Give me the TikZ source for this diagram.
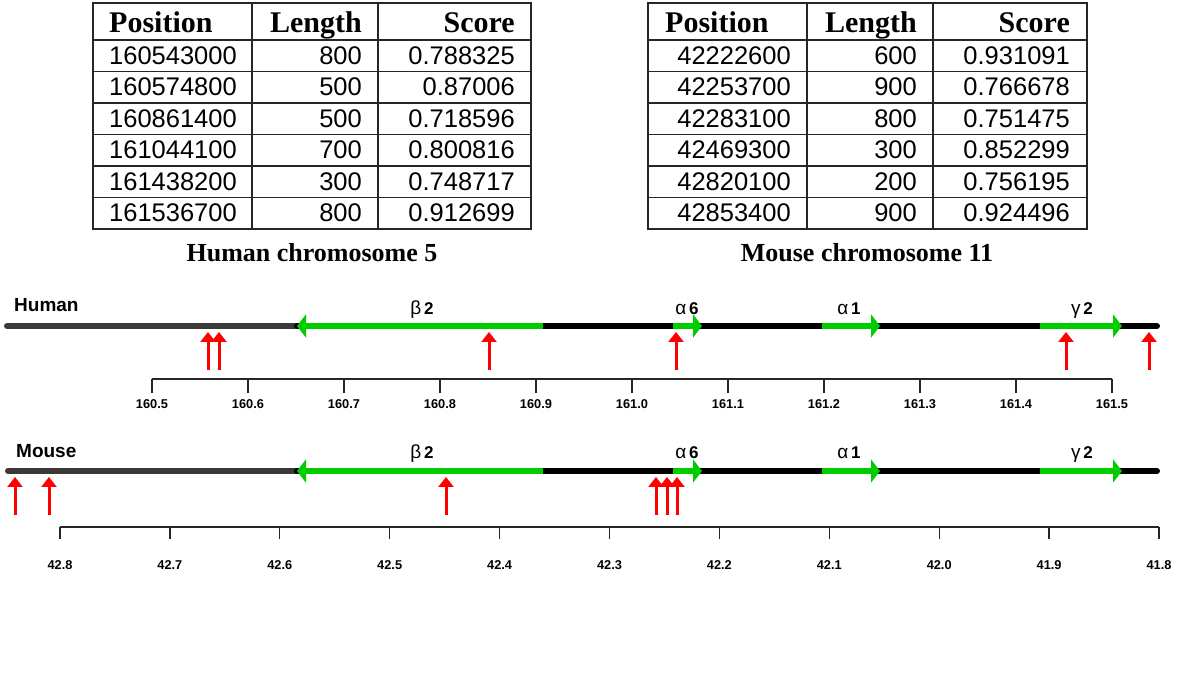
\documentclass[tikz,border=0pt]{standalone}
\usepackage{fontspec}
\setmainfont{Liberation Sans}
\newfontfamily\tnr{Liberation Serif}
\usetikzlibrary{arrows.meta}
\definecolor{genegreen}{RGB}{0,204,0}
\definecolor{chrgray}{RGB}{58,58,58}
\newcommand{\gk}[1]{{\fontsize{19}{22}\selectfont\mdseries #1}}
\begin{document}
\begin{tikzpicture}[x=1pt,y=-1pt,
  cell/.style={inner sep=0pt,font=\fontsize{25.5}{30}\selectfont},
  head/.style={inner sep=0pt,font=\fontsize{30}{34}\selectfont\tnr\bfseries},
  caption/.style={inner sep=0pt,font=\fontsize{26}{30}\selectfont\tnr\bfseries},
  grid/.style={line width=1.1pt,draw=black!85},
  chrom/.style={line width=6pt,line cap=round},
  gene/.style={draw=genegreen,line width=6pt,-{Triangle[length=9pt,width=23pt]}},
  site/.style={draw=red,line width=3pt,-{Triangle[length=10pt,width=15pt]}},
  axisline/.style={line width=1.3pt,draw=black!85},
  ticklab/.style={inner sep=0pt,font=\fontsize{12.8}{14}\selectfont\bfseries},
  species/.style={inner sep=0pt,anchor=base west,font=\fontsize{19}{22}\selectfont\bfseries},
  genelab/.style={inner sep=0pt,anchor=base,font=\fontsize{17}{20}\selectfont\bfseries}
]
\useasboundingbox (0,0) rectangle (1200,684);

% ---------------- Table 1 (human) ----------------
\draw[grid] (93,3) rectangle (531,229);
\draw[grid] (252,3) -- (252,229);
\draw[grid] (378,3) -- (378,229);
\foreach \r in {1,...,6} { \draw[grid] (93,{40+31.5*(\r-1)}) -- (531,{40+31.5*(\r-1)}); }
\node[head,anchor=base west] (h1pos) at (109,33) {Position};
\node[head,anchor=base east] (h1len) at (362,33) {Length};
\node[head,anchor=base east] (h1sc) at (515,33) {Score};
\foreach \p/\l/\s [count=\i] in {160543000/800/0.788325,160574800/500/0.87006,160861400/500/0.718596,161044100/700/0.800816,161438200/300/0.748717,161536700/800/0.912699} {
  \node[cell,anchor=base east] (h1p\i) at (237,{33+31.5*\i}) {\p};
  \node[cell,anchor=base east] (h1l\i) at (362,{33+31.5*\i}) {\l};
  \node[cell,anchor=base east] (h1s\i) at (515,{33+31.5*\i}) {\s};
}
\node[caption,anchor=base] (cap1) at (312,262) {Human chromosome 5};

% ---------------- Table 2 (mouse) ----------------
\draw[grid] (648,3) rectangle (1087,229);
\draw[grid] (807,3) -- (807,229);
\draw[grid] (933,3) -- (933,229);
\foreach \r in {1,...,6} { \draw[grid] (648,{40+31.5*(\r-1)}) -- (1087,{40+31.5*(\r-1)}); }
\node[head,anchor=base west] (h2pos) at (665,33) {Position};
\node[head,anchor=base east] (h2len) at (917,33) {Length};
\node[head,anchor=base east] (h2sc) at (1070,33) {Score};
\foreach \p/\l/\s [count=\i] in {42222600/600/0.931091,42253700/900/0.766678,42283100/800/0.751475,42469300/300/0.852299,42820100/200/0.756195,42853400/900/0.924496} {
  \node[cell,anchor=base east] (h2p\i) at (791,{33+31.5*\i}) {\p};
  \node[cell,anchor=base east] (h2l\i) at (917,{33+31.5*\i}) {\l};
  \node[cell,anchor=base east] (h2s\i) at (1070,{33+31.5*\i}) {\s};
}
\node[caption,anchor=base] (cap2) at (867,262) {Mouse chromosome 11};

% ---------------- Human chromosome ----------------
\node[species] (human) at (14,312) {Human};
\coordinate (hL) at (7,326);
\coordinate (hB) at (297,326);
\coordinate (hR) at (1157,326);
\draw[chrom,draw=chrgray] (hL) -- (hB);
\draw[chrom,draw=black] (hB) -- (hR);
\draw[gene] (543,326) -- (297,326);
\draw[gene] (673,326) -- (702,326);
\draw[gene] (822,326) -- (880,326);
\draw[gene] (1040,326) -- (1122,326);
\node[genelab] (hb2) at (422,315) {\gk{β}\,2};
\node[genelab] (ha6) at (687,315) {\gk{α}\,6};
\node[genelab] (ha1) at (849,315) {\gk{α}\,1};
\node[genelab] (hg2) at (1082,315) {\gk{γ}\,2};
\foreach \x in {208,219,489,676,1066,1149} { \draw[site] (\x,370) -- (\x,332); }
\draw[axisline] (152,379) -- (1112,379);
\foreach \lab [count=\i from 0] in {160.5,160.6,160.7,160.8,160.9,161.0,161.1,161.2,161.3,161.4,161.5} {
  \draw[axisline] ({152+96*\i},379) -- ({152+96*\i},393);
  \node[ticklab,anchor=base] (ht\i) at ({152+96*\i},409) {\lab};
}

% ---------------- Mouse chromosome ----------------
\node[species] (mouse) at (16,458) {Mouse};
\coordinate (mL) at (8,471);
\coordinate (mB) at (297,471);
\coordinate (mR) at (1157,471);
\draw[chrom,draw=chrgray] (mL) -- (mB);
\draw[chrom,draw=black] (mB) -- (mR);
\draw[gene] (543,471) -- (297,471);
\draw[gene] (673,471) -- (702,471);
\draw[gene] (822,471) -- (880,471);
\draw[gene] (1040,471) -- (1122,471);
\node[genelab] (mb2) at (422,459) {\gk{β}\,2};
\node[genelab] (ma6) at (687,459) {\gk{α}\,6};
\node[genelab] (ma1) at (849,459) {\gk{α}\,1};
\node[genelab] (mg2) at (1082,459) {\gk{γ}\,2};
\foreach \x in {15,49,446,656,667,677} { \draw[site] (\x,515) -- (\x,477); }
\draw[axisline] (60,527) -- (1159,527);
\foreach \lab [count=\i from 0] in {42.8,42.7,42.6,42.5,42.4,42.3,42.2,42.1,42.0,41.9,41.8} {
  \draw[axisline] ({60+109.9*\i},527) -- ({60+109.9*\i},539);
  \node[ticklab,anchor=base] (mt\i) at ({60+109.9*\i},569) {\lab};
}
\end{tikzpicture}
\end{document}
